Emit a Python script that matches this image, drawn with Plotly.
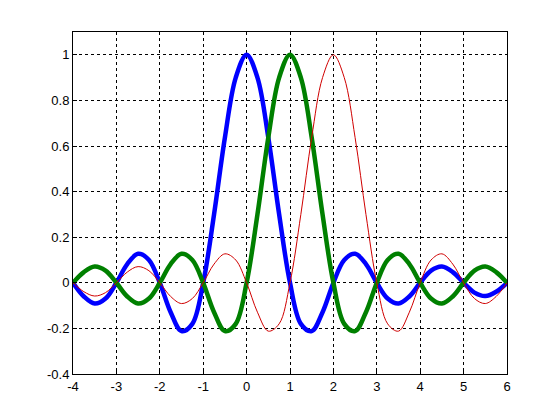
import plotly.graph_objects as go

x_vals = [-4.0, -3.75, -3.5, -3.25, -3.0, -2.75, -2.5, -2.25, -2.0, -1.75, -1.5, -1.25,
          -1.0, -0.75, -0.5, -0.25, 0.0, 0.25, 0.5, 0.75, 1.0, 1.25, 1.5, 1.75, 2.0,
          2.25, 2.5, 2.75, 3.0, 3.25, 3.5, 3.75, 4.0, 4.25, 4.5, 4.75, 5.0, 5.25, 5.5, 5.75, 6.0]

blue_y = [0, -0.060, -0.091, -0.069, 0, 0.082, 0.127, 0.100, 0, -0.129, -0.212, -0.180,
          0, 0.300, 0.637, 0.900, 1.0, 0.900, 0.637, 0.300, 0, -0.180, -0.212, -0.129, 0,
          0.100, 0.127, 0.082, 0, -0.069, -0.091, -0.060, 0, 0.053, 0.071, 0.047, 0,
          -0.043, -0.058, -0.039, 0]

green_y = [0, 0.047, 0.071, 0.053, 0, -0.060, -0.091, -0.069, 0, 0.082, 0.127, 0.100,
           0, -0.129, -0.212, -0.180, 0, 0.300, 0.637, 0.900, 1.0, 0.900, 0.637, 0.300, 0,
           -0.180, -0.212, -0.129, 0, 0.100, 0.127, 0.082, 0, -0.069, -0.091, -0.060, 0,
           0.053, 0.071, 0.047, 0]

red_y = [0, -0.039, -0.058, -0.043, 0, 0.047, 0.071, 0.053, 0, -0.060, -0.091, -0.069,
         0, 0.082, 0.127, 0.100, 0, -0.129, -0.212, -0.180, 0, 0.300, 0.637, 0.900, 1.0,
         0.900, 0.637, 0.300, 0, -0.180, -0.212, -0.129, 0, 0.100, 0.127, 0.082, 0,
         -0.069, -0.091, -0.060, 0]

x_ticks = [-4, -3, -2, -1, 0, 1, 2, 3, 4, 5, 6]
x_labels = ["-4", "-3", "-2", "-1", "0", "1", "2", "3", "4", "5", "6"]
y_ticks = [-0.4, -0.2, 0, 0.2, 0.4, 0.6, 0.8, 1.0]
y_labels = ["-0.4", "-0.2", "0", "0.2", "0.4", "0.6", "0.8", "1"]

fig = go.Figure()
fig.add_trace(go.Scatter(x=x_vals, y=blue_y, mode="lines",
                         line=dict(color="#0000FF", width=4.5, shape="spline", smoothing=1.0)))
fig.add_trace(go.Scatter(x=x_vals, y=green_y, mode="lines",
                         line=dict(color="#008000", width=4.5, shape="spline", smoothing=1.0)))
fig.add_trace(go.Scatter(x=x_vals, y=red_y, mode="lines",
                         line=dict(color="#D00000", width=1, shape="spline", smoothing=1.0)))

axis_common = dict(showline=True, linecolor="black", linewidth=1, mirror=True,
                   showgrid=True, gridcolor="black", gridwidth=1, griddash="3px,3px",
                   zeroline=False, ticks="inside", ticklen=4, tickcolor="black",
                   tickfont=dict(family="Liberation Sans, Arial, sans-serif", size=13, color="black"))

fig.update_xaxes(range=[-4, 6], tickvals=x_ticks, ticktext=x_labels, **axis_common)
fig.update_yaxes(range=[-0.4, 1.1], tickvals=y_ticks, ticktext=y_labels, **axis_common)

fig.update_layout(width=560, height=420, showlegend=False,
                  paper_bgcolor="white", plot_bgcolor="white",
                  margin=dict(l=65, r=61, t=24, b=54))

fig.write_html("out.html")
